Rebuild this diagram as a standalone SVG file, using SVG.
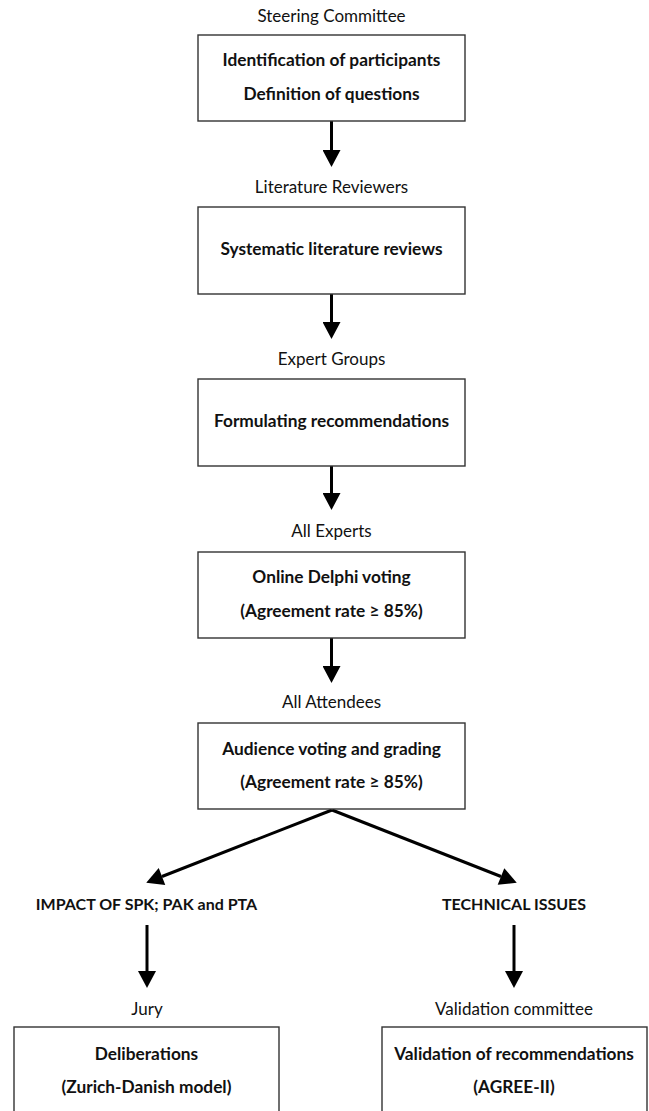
<svg xmlns="http://www.w3.org/2000/svg" width="649" height="1111" viewBox="0 0 649 1111">
<style>
text{font-family:Lato,"Liberation Sans",sans-serif;text-anchor:middle;fill:#111}
.lbl{font-size:17px}
.b{font-size:17.3px;font-weight:bold}
.caps{font-size:16px;font-weight:bold}
.box{fill:#fff;stroke:#333;stroke-width:1.4}
.con{stroke:#000;stroke-width:3;fill:none}
</style>
<defs>
<marker id="ah" markerUnits="userSpaceOnUse" markerWidth="18" markerHeight="18" refX="0" refY="8.5" orient="auto" viewBox="0 0 16 17">
<path d="M0,0 L16,8.5 L0,17 z" fill="#000"/>
</marker>
</defs>
<rect width="649" height="1111" fill="#fff"/>
<g id="connectors">
<line class="con" x1="331.5" y1="121" x2="331.5" y2="150" marker-end="url(#ah)"/>
<line class="con" x1="331.5" y1="294" x2="331.5" y2="322" marker-end="url(#ah)"/>
<line class="con" x1="331.5" y1="466" x2="331.5" y2="493" marker-end="url(#ah)"/>
<line class="con" x1="331.5" y1="638" x2="331.5" y2="666" marker-end="url(#ah)"/>
<line class="con" x1="332" y1="810" x2="162" y2="876.5" marker-end="url(#ah)"/>
<line class="con" x1="332" y1="810" x2="501" y2="876.5" marker-end="url(#ah)"/>
<line class="con" x1="147" y1="925" x2="147" y2="971" marker-end="url(#ah)"/>
<line class="con" x1="514" y1="925" x2="514" y2="971" marker-end="url(#ah)"/>
</g>
<g id="steering">
<text class="lbl" x="331.5" y="21.5">Steering Committee</text>
<rect class="box" x="198" y="35" width="267" height="86"/>
<text class="b" x="331.5" y="66">Identification of participants</text>
<text class="b" x="331.5" y="100">Definition of questions</text>
</g>
<g id="literature">
<text class="lbl" x="331.5" y="193">Literature Reviewers</text>
<rect class="box" x="198" y="207" width="267" height="87"/>
<text class="b" x="331.5" y="255">Systematic literature reviews</text>
</g>
<g id="expertgroups">
<text class="lbl" x="331.5" y="365">Expert Groups</text>
<rect class="box" x="198" y="379" width="267" height="87"/>
<text class="b" x="331.5" y="427">Formulating recommendations</text>
</g>
<g id="allexperts">
<text class="lbl" x="331.5" y="537">All Experts</text>
<rect class="box" x="198" y="552" width="267" height="86"/>
<text class="b" x="331.5" y="583">Online Delphi voting</text>
<text class="b" x="331.5" y="617">(Agreement rate ≥ 85%)</text>
</g>
<g id="attendees">
<text class="lbl" x="331.5" y="708">All Attendees</text>
<rect class="box" x="198" y="723" width="267" height="86"/>
<text class="b" x="331.5" y="755">Audience voting and grading</text>
<text class="b" x="331.5" y="788">(Agreement rate ≥ 85%)</text>
</g>
<g id="impact">
<text class="caps" x="146.5" y="910">IMPACT OF SPK; PAK and PTA</text>
</g>
<g id="technical">
<text class="caps" x="514" y="910">TECHNICAL ISSUES</text>
</g>
<g id="jury">
<text class="lbl" x="147" y="1015">Jury</text>
<rect class="box" x="14" y="1027" width="265" height="100"/>
<text class="b" x="146.5" y="1060">Deliberations</text>
<text class="b" x="146.5" y="1093">(Zurich-Danish model)</text>
</g>
<g id="validation">
<text class="lbl" x="514" y="1015">Validation committee</text>
<rect class="box" x="382" y="1027" width="265" height="100"/>
<text class="b" x="514" y="1060">Validation of recommendations</text>
<text class="b" x="514" y="1093">(AGREE-II)</text>
</g>
</svg>
